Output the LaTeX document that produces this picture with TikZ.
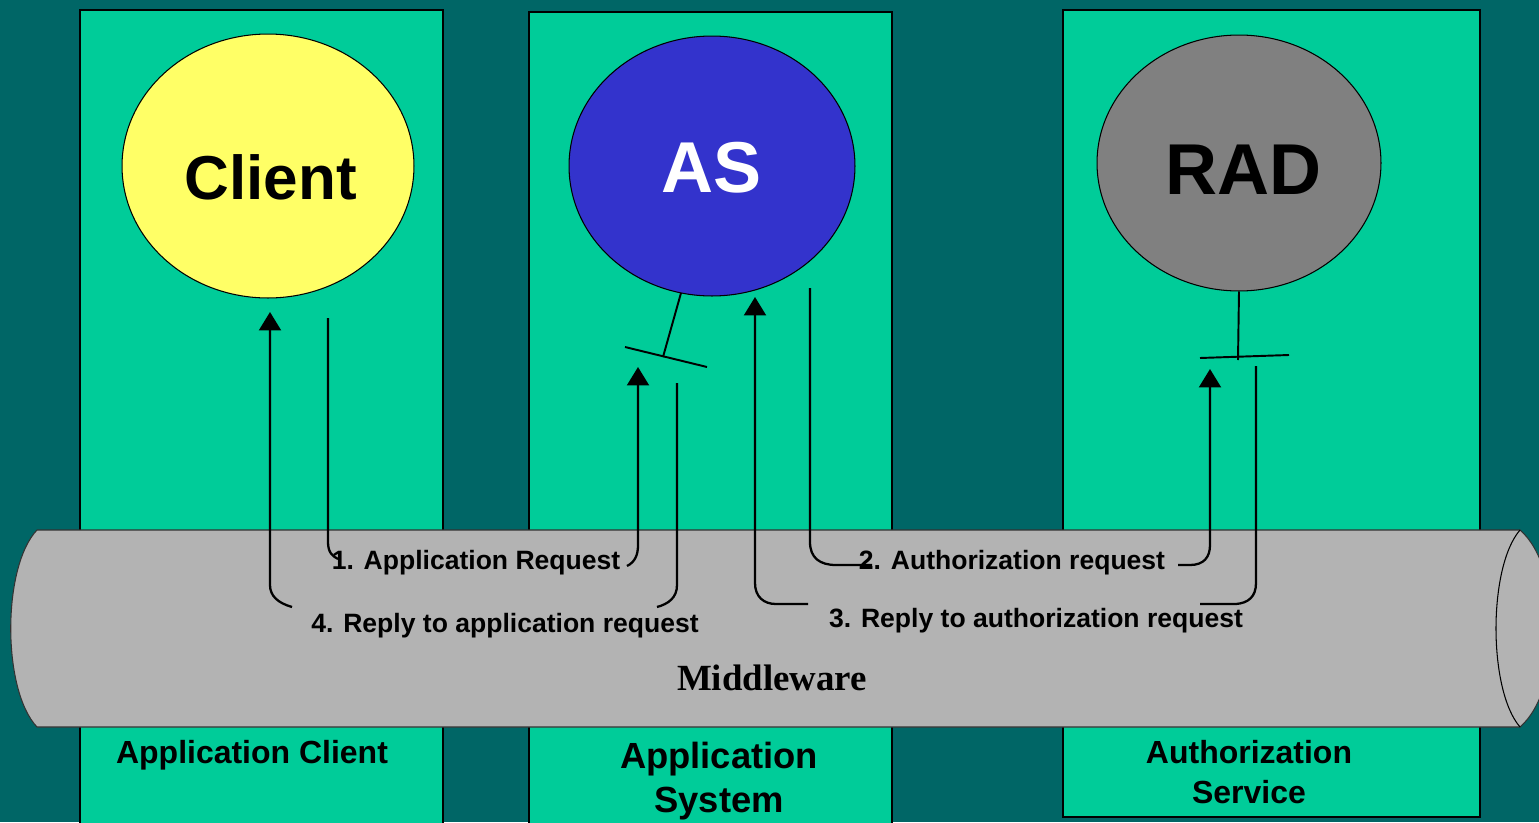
\documentclass[tikz,border=0pt]{standalone}
\usepackage{fontspec}
\setmainfont{Liberation Sans}
\newfontfamily\serifbf{Liberation Serif}
\usetikzlibrary{shapes.geometric,arrows.meta}
\definecolor{bgteal}{HTML}{006666}
\definecolor{panelgreen}{HTML}{00CC99}
\definecolor{cylgray}{HTML}{B3B3B3}
\definecolor{clientyellow}{HTML}{FFFF66}
\definecolor{asblue}{HTML}{3333CC}
\definecolor{radgray}{HTML}{808080}
\tikzset{
  panel/.style={draw=black, line width=0.8pt, fill=panelgreen},
  actor/.style={ellipse, draw=black, line width=0.6pt, inner sep=0pt, font=\bfseries, text depth=0pt},
  conn/.style={draw=black, line width=1.3pt},
  connarrow/.style={conn, -{Triangle[width=12.5pt,length=10.5pt]}},
  tbar/.style={draw=black, line width=1.1pt},
  msg/.style={font=\fontsize{15.1pt}{18pt}\selectfont\bfseries, inner sep=0pt},
  paneltitle/.style={font=\fontsize{18.2pt}{22pt}\selectfont\bfseries, align=center, inner sep=0pt},
}
\begin{document}
\begin{tikzpicture}[x=0.02cm,y=-0.02cm]
\clip (0,0) rectangle (1539,822);
\fill[bgteal] (0,0) rectangle (1539,822);
% panels
\path[panel] (80,10) rectangle (443,830);
\path[panel] (529,12) rectangle (892,830);
\path[panel] (1063,10) rectangle (1480,817);
% actors
\node[actor, fill=clientyellow, minimum width=5.84cm, minimum height=5.28cm, text height=1.36cm,
      font=\fontsize{35.3pt}{40pt}\selectfont\bfseries] (client) at (268,166) {\hspace*{0.1cm}Client};
\node[actor, fill=asblue, text=white, minimum width=5.72cm, minimum height=5.2cm, text height=1.08cm,
      font=\fontsize{41pt}{46pt}\selectfont\bfseries] (as) at (712,166) {AS};
\node[actor, fill=radgray, minimum width=5.68cm, minimum height=5.12cm, text height=1.28cm,
      font=\fontsize{41pt}{46pt}\selectfont\bfseries] (rad) at (1239,163) {\hspace*{0.2cm}RAD};
% T-bars (interfaces)
\coordinate (astop) at (681,293);
\coordinate (asstem) at (663,357);
\coordinate (asbarL) at (625,347);
\coordinate (asbarR) at (707,367);
\draw[tbar] (astop) -- (asstem);
\draw[tbar] (asbarL) -- (asbarR);
\coordinate (radstem) at (1238,360);
\coordinate (radbarL) at (1200,358);
\coordinate (radbarR) at (1289,355);
\draw[tbar] (rad.south) -- (radstem);
\draw[tbar] (radbarL) -- (radbarR);
% middleware cylinder
\coordinate (cTL) at (37,530);
\coordinate (cTR) at (1520,530);
\coordinate (cBR) at (1520,727);
\coordinate (cBL) at (37,727);
\draw[fill=cylgray, draw=black!80, line width=0.6pt]
  (cTL) -- (cTR) .. controls (1563,567) and (1563,690) .. (cBR) -- (cBL)
  .. controls (2,690) and (2,567) .. (cTL) -- cycle;
\draw[draw=black, line width=0.6pt] (cTR) .. controls (1488,567) and (1488,690) .. (cBR);
\node[font=\serifbf\fontsize{21pt}{24pt}\selectfont\bfseries, inner sep=0pt] (mw) at (772,678) {Middleware};
% message labels
\node[msg] (m1) at (476,563) {1. Application Request};
\node[msg] (m2) at (1012,563) {2. Authorization request};
\node[msg] (m3) at (1036,621) {3. Reply to authorization request};
\node[msg] (m4) at (505,626) {4. Reply to application request};
% connector ends
\coordinate (s1) at (328,318);
\coordinate (e1a) at (338,559);
\coordinate (e1b) at (627,566);
\coordinate (t1) at (638,367);
\coordinate (s2) at (810,288);
\coordinate (e2a) at (872,565);
\coordinate (e2b) at (1178,565);
\coordinate (t2) at (1210,369);
\coordinate (s3) at (1256,366);
\coordinate (e3a) at (1200,604);
\coordinate (e3b) at (808,604);
\coordinate (t3) at (755,297);
\coordinate (s4) at (677,383);
\coordinate (e4a) at (657,607);
\coordinate (e4b) at (292,607);
\coordinate (t4) at (270,312);
% 1. Application Request
\draw[conn] (s1) -- (328,542) .. controls (328,552) and (332,556) .. (e1a);
\draw[connarrow] (e1b) .. controls (635,562) and (638,555) .. (638,545) -- (t1);
% 2. Authorization request
\draw[conn] (s2) -- (810,542) .. controls (810,558) and (820,565) .. (836,565) -- (e2a);
\draw[connarrow] (e2b) -- (1190,565) .. controls (1204,565) and (1210,557) .. (1210,545) -- (t2);
% 3. Reply to authorization request
\draw[conn] (s3) -- (1256,583) .. controls (1256,597) and (1248,603) .. (1236,604) -- (e3a);
\draw[connarrow] (e3b) -- (776,604) .. controls (764,604) and (755,597) .. (755,583) -- (t3);
% 4. Reply to application request
\draw[conn] (s4) -- (677,585) .. controls (677,598) and (668,604) .. (e4a);
\draw[connarrow] (e4b) .. controls (278,603) and (270,596) .. (270,585) -- (t4);
% panel titles
\node[paneltitle] (t_client) at (252,755) {Application Client};
\node[paneltitle, font=\fontsize{20.7pt}{25.5pt}\selectfont\bfseries] (t_as) at (719,781) {Application\\System};
\node[paneltitle, font=\fontsize{18.2pt}{22.5pt}\selectfont\bfseries] (t_rad) at (1249,772) {Authorization\\Service};
\end{tikzpicture}
\end{document}
